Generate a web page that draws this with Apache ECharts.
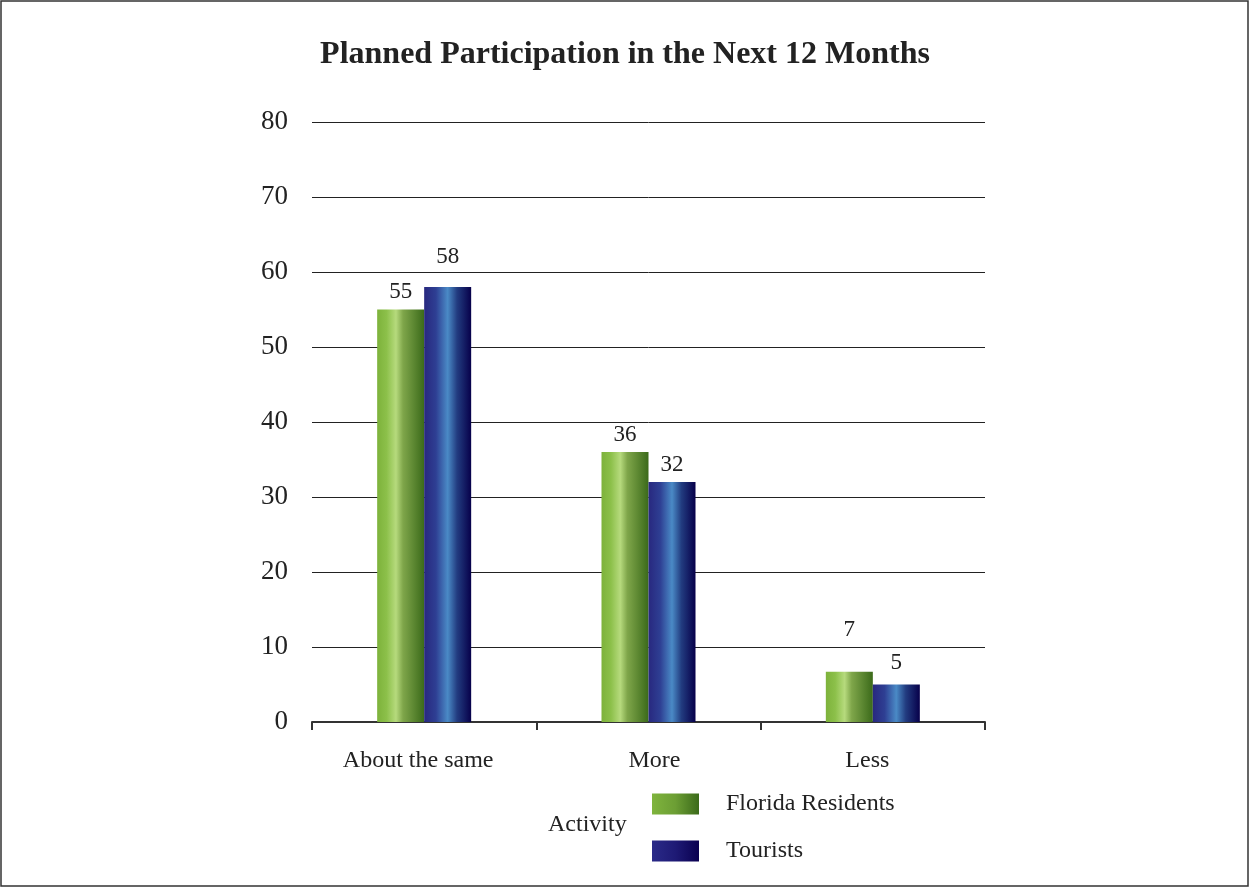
<!DOCTYPE html>
<html><head><meta charset="utf-8">
<script src="https://cdn.jsdelivr.net/npm/echarts@6/dist/echarts.min.js"></script>
<style>html,body{margin:0;padding:0;background:#fff}#c{width:1250px;height:888px}</style>
</head><body><div id="c"></div>
<script>
const categories = ['About the same', 'More', 'Less'];
const floridaResidents = [55, 36, 6.7];
const tourists = [58, 32, 5];
const yTicks = [0, 10, 20, 30, 40, 50, 60, 70, 80];
const seriesNames = ['Florida Residents', 'Tourists'];

const F = 'Liberation Serif, Times New Roman, serif';
function grad(stops) {
  return new echarts.graphic.LinearGradient(0, 0, 1, 0, stops.map(c => ({offset: c[0], color: c[1]})));
}
const greenBar = grad([[0, '#7db23b'], [0.2, '#8cc04a'], [0.4, '#b6da7d'], [0.55, '#7fa64a'], [1, '#3b6a1a']]);
const blueBar = grad([[0, '#28287f'], [0.25, '#2e3f93'], [0.5, '#4a8ac6'], [0.7, '#223c80'], [1, '#07004a']]);
const greenLeg = grad([[0, '#7fb43d'], [0.5, '#6c9e34'], [1, '#3b6a1a']]);
const blueLeg = grad([[0, '#2a2a88'], [0.5, '#1e1a75'], [1, '#0a0050']]);

const labelCommon = {show: true, position: 'top', distance: 10, color: '#222', fontFamily: F, fontSize: 23,
  formatter: p => Math.round(p.value)};
const catStyle = ['a', 'b', 'c'];
const dyF = [4, 4.5, -20];
const dyT = [-9, 4, 0];

const chart = echarts.init(document.getElementById('c'));
chart.setOption({
  animation: false,
  backgroundColor: '#fff',
  title: {text: 'Planned Participation in the Next 12 Months', left: 'center', top: 34,
    textStyle: {fontFamily: F, fontSize: 32, fontWeight: 'bold', color: '#222'}},
  grid: {left: 312, top: 122, width: 673, height: 600, containLabel: false},
  xAxis: {type: 'category', data: categories,
    axisLine: {lineStyle: {color: '#333', width: 2}},
    axisTick: {show: true, interval: 0, length: 8, lineStyle: {color: '#333', width: 2}},
    axisLabel: {interval: 0, hideOverlap: false, fontFamily: F, fontSize: 24, color: '#222', margin: 27,
      formatter: (v, i) => '{' + catStyle[i] + '|' + v + '}',
      rich: {
        a: {fontFamily: F, fontSize: 24, color: '#222', padding: [0, 12, 0, 0]},
        b: {fontFamily: F, fontSize: 24, color: '#222', padding: [0, 0, 0, 12]},
        c: {fontFamily: F, fontSize: 24, color: '#222', padding: [0, 11, 0, 0]}
      }}},
  yAxis: {type: 'value', min: yTicks[0], max: yTicks[yTicks.length - 1], interval: 10,
    axisLine: {show: false}, axisTick: {show: false},
    splitLine: {lineStyle: {color: '#222', width: 1}},
    axisLabel: {fontFamily: F, fontSize: 27, color: '#222', margin: 24, padding: [0, 0, 8, 0]}},
  legend: {orient: 'vertical', left: 652, top: 792, padding: 0, itemWidth: 47, itemHeight: 21, itemGap: 23,
    icon: 'rect',
    textStyle: {fontFamily: F, fontSize: 24, color: '#222', padding: [0, 0, 0, 22]},
    data: [{name: seriesNames[0], itemStyle: {color: greenLeg}}, {name: seriesNames[1], itemStyle: {color: blueLeg}}]},
  graphic: [
    {type: 'rect', x: 1, y: 1, shape: {x: 0, y: 0, width: 1247, height: 885}, style: {fill: 'none', stroke: '#333', lineWidth: 1.5}, silent: true},
    {type: 'text', left: 548, top: 813, style: {text: 'Activity', font: '24px ' + F, fill: '#222'}}
  ],
  series: [
    {name: seriesNames[0], type: 'bar', data: floridaResidents, barWidth: 47, barGap: '0%',
      itemStyle: {color: greenBar},
      label: Object.assign({}, labelCommon),
      labelLayout: p => ({dy: dyF[p.dataIndex]})},
    {name: seriesNames[1], type: 'bar', data: tourists, barWidth: 47,
      itemStyle: {color: blueBar},
      label: Object.assign({}, labelCommon),
      labelLayout: p => ({dy: dyT[p.dataIndex]})}
  ]
});
</script></body></html>
